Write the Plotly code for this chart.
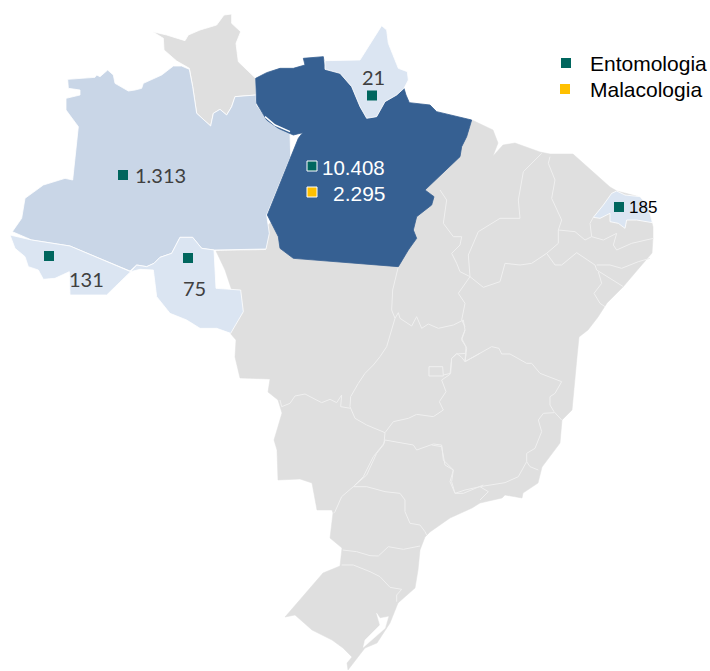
import plotly.graph_objects as go

# Map outlines. Each: (origin x, origin y, scale-3 crop points)
RR = (0, 0, [(458,95),(490,115),(492,150),(530,183),(568,205),(578,260),(590,340),(632,378),(640,340),(660,328),(680,345),(695,320),(705,290),(768,285),(767,235),(715,185),(708,130),(722,95),(695,70),(695,42),(672,45),(650,75),(600,90),(565,105),(555,122),(500,105)])
AM = (0, 0, [(203,238),(285,232),(290,225),(300,230),(323,210),(340,225),(345,250),(385,273),(405,270),(425,265),(430,250),(485,225),(520,198),(545,198),(568,208),(578,260),(590,340),(632,378),(640,340),(660,328),(680,345),(695,320),(705,290),(768,285),(770,315),(795,350),(825,375),(870,395),(872,470),(800,645),(808,700),(798,747),(642,750),(605,745),(578,712),(540,712),(515,760),(480,772),(462,790),(440,800),(410,795),(390,813),(210,738),(95,720),(37,695),(65,655),(75,595),(130,555),(195,535),(218,540),(235,380),(198,330),(198,295),(240,285),(240,270),(205,265)])
AC = (0, 0, [(30,705),(95,720),(210,738),(392,815),(320,885),(295,885),(210,885),(208,815),(165,835),(130,838),(115,810),(85,800),(75,770),(45,745)])
RO = (0, 0, [(392,815),(410,795),(440,800),(462,790),(480,772),(515,760),(540,712),(578,712),(605,745),(642,750),(648,865),(722,870),(730,935),(692,1000),(650,985),(600,985),(560,960),(510,940),(470,890),(460,810),(420,808)])
PA = (250, 0, [(17,235),(50,218),(90,205),(130,205),(165,195),(160,175),(220,170),(225,208),(270,220),(305,260),(330,320),(350,355),(380,350),(405,305),(440,285),(462,265),(468,285),(478,308),(540,315),(560,335),(665,360),(650,410),(635,440),(630,470),(525,570),(552,590),(545,615),(500,650),(490,690),(500,715),(475,750),(445,800),(130,775),(90,745),(85,710),(52,645),(145,415),(158,398),(130,405),(85,385),(50,360),(20,310)])
AP = (250, 0, [(225,182),(285,182),(330,180),(395,77),(410,90),(415,130),(445,205),(472,215),(475,240),(462,265),(440,285),(405,305),(380,350),(350,355),(330,320),(305,260),(270,220),(225,208)])
RN = (440, 130, [(460,262),(490,225),(515,190),(530,183),(555,195),(600,200),(625,230),(637,278),(590,270),(560,270),(555,295),(535,280),(510,275),(510,250),(480,265)])
LAGOON = (270, 440, [(320,520),(330,535),(355,530),(345,565),(280,622),(285,600),(330,555)])
MAINLAND = (0, 0, [(900,690),(1200,630),(1416,360),(1479,390),(1494,429),(1479,468),(1509,435),(1545,429),(1620,456),(1650,462),(1719,462),(1830,561),(1851,573),(1920,591),(1944,621),(1959,681),(1959,711),(1956,759),(1920,801),(1869,861),(1821,909),(1794,951),(1764,990),(1737,1011),(1731,1071),(1716,1230),(1686,1260),(1680,1329),(1626,1401),(1614,1449),(1569,1479),(1566,1494),(1515,1485),(1506,1494),(1440,1509),(1416,1524),(1350,1554),(1290,1596),(1275,1611),(1260,1650),(1254,1710),(1245,1764),(1194,1809),(1170,1869),(1131,1929),(1095,1944),(1074,1971),(1044,2010),(1041,1989),(1056,1971),(1029,1944),(996,1920),(936,1890),(885,1845),(855,1851),(939,1755),(969,1719),(1020,1698),(1026,1656),(1026,1644),(990,1614),(999,1539),(996,1530),(951,1530),(936,1449),(900,1437),(834,1440),(831,1350),(822,1320),(846,1239),(834,1200),(804,1176),(810,1137),(720,1134),(705,1071),(708,1020),(690,999),(705,900),(675,810),(648,753),(798,750),(804,675),(840,645)])

# Internal state borders
BORDERS = [
    (220, 250, [(535,50),(518,120),(515,180),(525,205),(500,290),(480,320),(460,345),(435,370),(415,400),(392,440),(390,470),(400,490),(405,505),(440,525),(495,548)]),
    (220, 250, [(180,450),(185,470),(210,460),(225,438),(255,432),(305,458),(330,448),(350,458),(365,435),(362,470),(392,475)]),
    (220, 250, [(495,548),(520,515),(565,505),(590,493),(640,500),(670,480),(658,455),(678,425),(665,390),(690,373),(695,325),(710,310),(725,322),(735,335),(780,310)]),
    (220, 250, [(627,350),(668,350),(670,378),(627,378),(627,350)]),
    (220, 250, [(525,205),(535,188),(540,205),(575,228),(590,200),(605,235),(625,222),(655,235),(700,225),(730,210),(735,240),(725,265),(740,295),(735,335)]),
    (220, 250, [(495,548),(492,580),(460,620),(430,680),(405,705)]),
    (440, 130, [(0,180),(20,210),(10,280),(40,320),(65,320),(60,345),(35,370),(50,400),(60,425),(90,440)]),
    (440, 130, [(90,440),(55,490),(75,520),(65,570),(75,590)]),
    (440, 130, [(90,440),(85,375),(115,305),(180,265),(240,265),(235,210),(250,125),(305,70)]),
    (440, 130, [(330,80),(325,100),(345,150),(335,205),(365,270),(355,300),(355,340),(320,370)]),
    (440, 130, [(90,440),(130,472),(180,455),(195,400),(240,405),(275,400),(320,370)]),
    (440, 130, [(355,300),(405,305),(435,330),(455,320),(450,280),(460,262)]),
    (440, 130, [(455,320),(490,330),(530,310),(520,345),(530,360),(575,340),(640,325)]),
    (440, 130, [(320,370),(345,405),(365,405),(410,368),(465,405),(470,420),(550,470)]),
    (440, 130, [(470,405),(510,405),(545,415),(595,395),(630,385)]),
    (440, 130, [(475,425),(485,460),(462,490),(480,520),(495,530)]),
    (430, 330, [(105,95),(185,50),(207,55),(215,72),(240,72),(290,100),(305,100),(330,130),(395,155),(375,190),(360,200),(360,225),(372,245),(395,270)]),
    (430, 330, [(372,248),(340,250),(325,270),(335,305),(315,355),(290,370),(290,395),(265,440),(225,458),(150,470),(105,480),(75,490),(65,455),(70,420),(45,405),(35,350),(5,345)]),
    (430, 330, [(290,395),(300,410),(325,420)]),
    (430, 330, [(150,470),(175,485),(150,510)]),
    (430, 330, [(105,95),(108,70),(80,72),(65,85),(62,130),(40,135)]),
    (430, 330, [(105,95),(108,50),(95,30),(105,0)]),
    (270, 440, [(345,0),(340,15),(320,40),(290,105),(250,140)]),
    (270, 440, [(345,0),(430,15),(440,30),(490,12),(515,15),(520,60),(550,90),(540,125),(555,160),(580,160),(640,135)]),
    (270, 440, [(250,140),(290,140),(345,155),(390,160),(405,180),(405,215),(420,250),(450,255),(465,275),(470,285)]),
    (270, 440, [(250,140),(215,170),(195,215),(190,220)]),
    (270, 440, [(218,330),(260,335),(300,347),(325,348),(355,320),(400,328),(450,318)]),
    (270, 440, [(215,375),(250,375),(300,395),(330,410),(360,442),(395,448),(380,465),(380,485)]),
    (0, 0, [(795,350),(825,375),(870,395)]),
]

STATE_FILL = [(RR, "#DFDFDF"), (AM, "#C9D6E7"), (AC, "#DBE5F2"), (RO, "#DBE5F2"),
              (PA, "#366092"), (AP, "#DBE5F2"), (RN, "#DBE5F2")]

# Samples per state
ENT_X = [123, 49, 188, 372, 312, 619]
ENT_Y = [175, 256, 258, 95.5, 166, 207]
ENT_VALUE_TEXT = ["1.313", "131", "75", "21", "10.408", "185"]
MAL_X = [312]
MAL_Y = [192]
MAL_VALUE_TEXT = ["2.295"]
LABEL_X = [160.5, 86, 194.5, 373.5, 353.5, 643]
LABEL_Y = [175, 279, 288, 77, 167, 207.5]
LABEL_COLOR = ["#404040", "#404040", "#404040", "#404040", "#FFFFFF", "#000000"]
LABEL_FONT = ["Lato", "Lato", "Lato", "Lato", "Liberation Sans", "Liberation Sans"]
LABEL_SIZE = [20, 20, 20, 20, 20.5, 17]
MAL_LABEL_X = [359.5]
MAL_LABEL_Y = [193]
LEGEND_NAMES = ["Entomologia", "Malacologia"]
LEGEND_COLORS = ["#00665E", "#FFC000"]
LEGEND_X = [566, 565]
LEGEND_Y = [63, 89]
LEGEND_TEXT_X = [590, 590]


def to_xy(shape):
    ox, oy, pts = shape
    xs = [ox + p[0] / 3 for p in pts]
    ys = [oy + p[1] / 3 for p in pts]
    return xs, ys


def close(xs, ys):
    return xs + xs[:1], ys + ys[:1]


fig = go.Figure()

def area(shape, color, line="#FFFFFF", w=1):
    xs, ys = close(*to_xy(shape))
    fig.add_trace(go.Scatter(x=xs, y=ys, mode="lines", fill="toself", fillcolor=color,
                             line=dict(color=line, width=w), hoverinfo="skip", showlegend=False))

area(MAINLAND, "#DFDFDF", "#DFDFDF", 0.5)
for b in BORDERS[:-1]:
    xs, ys = to_xy(b)
    fig.add_trace(go.Scatter(x=xs, y=ys, mode="lines", line=dict(color="#F0F0F0", width=1),
                             hoverinfo="skip", showlegend=False))
area(LAGOON, "#FFFFFF", "#FFFFFF", 0.5)
for shape, color in STATE_FILL:
    area(shape, color, color if color == "#366092" else "#FFFFFF", 0.8)
xs, ys = to_xy(BORDERS[-1])
fig.add_trace(go.Scatter(x=xs, y=ys, mode="lines", line=dict(color="#FFFFFF", width=1.5),
                         hoverinfo="skip", showlegend=False))

ent_line = ["#FFFFFF" if i == 4 else "#00665E" for i in range(len(ENT_X))]
fig.add_trace(go.Scatter(x=ENT_X, y=ENT_Y, mode="markers", hoverinfo="skip", showlegend=False,
                         marker=dict(symbol="square", size=10, color=LEGEND_COLORS[0],
                                     line=dict(color=ent_line, width=[1 if i == 4 else 0 for i in range(len(ENT_X))]))))
fig.add_trace(go.Scatter(x=MAL_X, y=MAL_Y, mode="markers", hoverinfo="skip", showlegend=False,
                         marker=dict(symbol="square", size=10, color=LEGEND_COLORS[1],
                                     line=dict(color="#FFFFFF", width=1))))
fig.add_trace(go.Scatter(x=LEGEND_X, y=LEGEND_Y, mode="markers", hoverinfo="skip", showlegend=False,
                         marker=dict(symbol="square", size=10, color=LEGEND_COLORS)))

ann = []
for x, y, t, c, f, s in zip(LABEL_X, LABEL_Y, ENT_VALUE_TEXT, LABEL_COLOR, LABEL_FONT, LABEL_SIZE):
    ann.append(dict(x=x, y=y, text=t, showarrow=False, xanchor="center", yanchor="middle",
                    font=dict(color=c, family=f, size=s)))
for x, y, t in zip(MAL_LABEL_X, MAL_LABEL_Y, MAL_VALUE_TEXT):
    ann.append(dict(x=x, y=y, text=t, showarrow=False, xanchor="center", yanchor="middle",
                    font=dict(color="#FFFFFF", family="Liberation Sans", size=21)))
for x, y, t in zip(LEGEND_TEXT_X, LEGEND_Y, LEGEND_NAMES):
    ann.append(dict(x=x, y=y, text=t, showarrow=False, xanchor="left", yanchor="middle",
                    xshift=-2, font=dict(color="#000000", family="Liberation Sans", size=21)))

fig.update_layout(
    width=710, height=671, margin=dict(l=0, r=0, t=0, b=0),
    paper_bgcolor="#FFFFFF", plot_bgcolor="#FFFFFF", showlegend=False, annotations=ann,
    xaxis=dict(range=[0, 710], visible=False, fixedrange=True),
    yaxis=dict(range=[671, 0], visible=False, fixedrange=True),
)
fig.write_html("out.html", config={"displayModeBar": False},
               post_script="document.body.style.margin='0';")
